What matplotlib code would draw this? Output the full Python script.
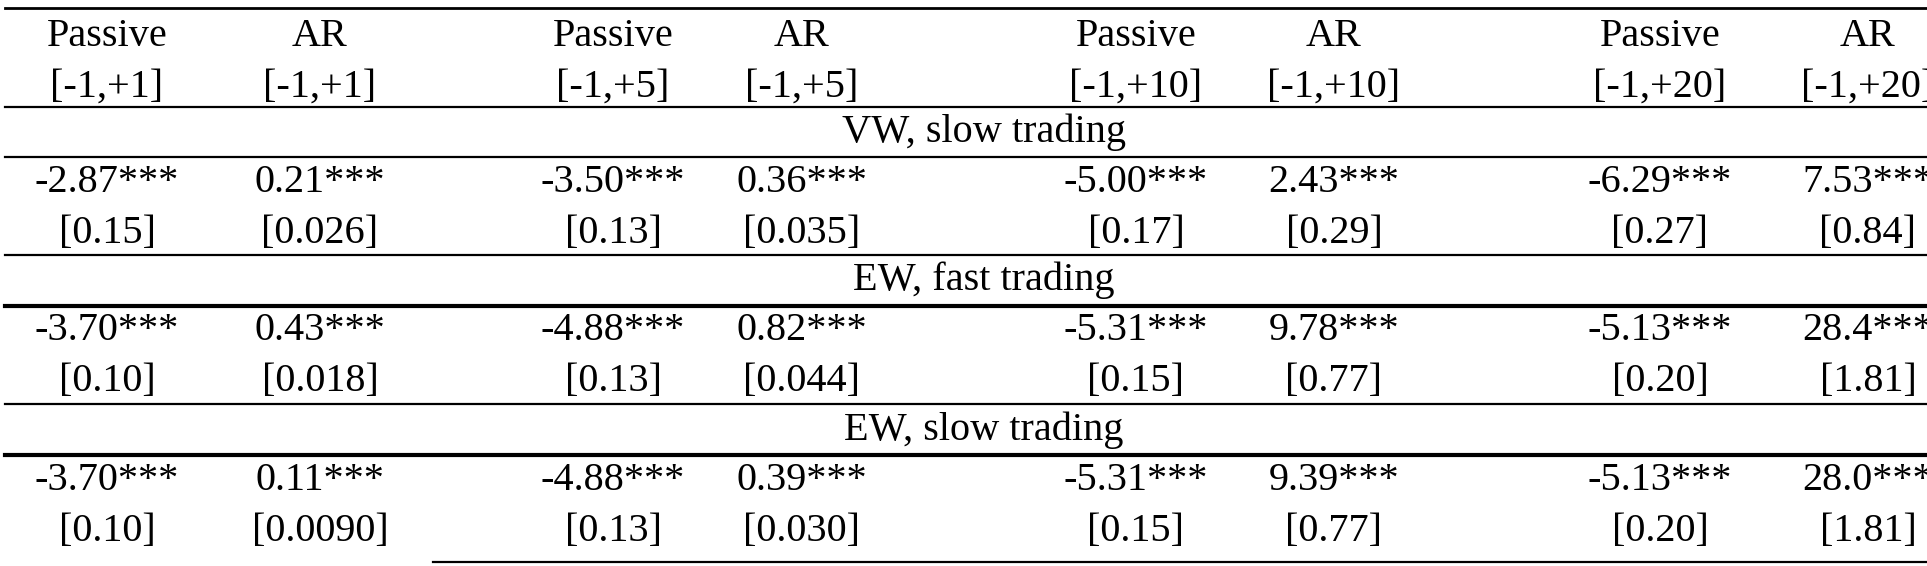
import matplotlib
matplotlib.use("Agg")
import matplotlib.pyplot as plt

windows = ["[-1,+1]", "[-1,+5]", "[-1,+10]", "[-1,+20]"]
sections = ["VW, slow trading", "EW, fast trading", "EW, slow trading"]
passive_est = [["-2.87***", "-3.50***", "-5.00***", "-6.29***"],
               ["-3.70***", "-4.88***", "-5.31***", "-5.13***"],
               ["-3.70***", "-4.88***", "-5.31***", "-5.13***"]]
passive_se = [["[0.15]", "[0.13]", "[0.17]", "[0.27]"],
              ["[0.10]", "[0.13]", "[0.15]", "[0.20]"],
              ["[0.10]", "[0.13]", "[0.15]", "[0.20]"]]
ar_est = [["0.21***", "0.36***", "2.43***", "7.53***"],
          ["0.43***", "0.82***", "9.78***", "28.4***"],
          ["0.11***", "0.39***", "9.39***", "28.0***"]]
ar_se = [["[0.026]", "[0.035]", "[0.29]", "[0.84]"],
         ["[0.018]", "[0.044]", "[0.77]", "[1.81]"],
         ["[0.0090]", "[0.030]", "[0.77]", "[1.81]"]]

W, H = 1927, 566
fig = plt.figure(figsize=(W/100, H/100), dpi=100)
ax = fig.add_axes([0, 0, 1, 1])
ax.set_xlim(0, W); ax.set_ylim(H, 0); ax.axis("off")
kw = dict(fontsize=29, family="Liberation Serif", va="center", ha="center")

pcols = [107, 613, 1136, 1660]
acols = [320, 802, 1334, 1868]

for i, w in enumerate(windows):
    ax.text(pcols[i], 36, "Passive", **kw)
    ax.text(pcols[i], 87, w, **kw)
    ax.text(acols[i], 36, "AR", **kw)
    ax.text(acols[i], 87, w, **kw)

sec_y = [132, 280, 430]
for s, name in enumerate(sections):
    y0 = sec_y[s]
    ax.text(984, y0, name, **kw)
    for i in range(4):
        ax.text(pcols[i], y0 + 50, passive_est[s][i], **kw)
        ax.text(pcols[i], y0 + 101, passive_se[s][i], **kw)
        ax.text(acols[i], y0 + 50, ar_est[s][i], **kw)
        ax.text(acols[i], y0 + 101, ar_se[s][i], **kw)

for y, lw in [(8, 2.0), (107, 1.6), (157, 1.6), (255, 1.6), (306, 3.0), (404, 1.6), (455, 3.0)]:
    ax.plot([5, W], [y, y], color="black", lw=lw)
ax.plot([433, W], [562, 562], color="black", lw=1.6)

fig.savefig("out.png", dpi=100)
